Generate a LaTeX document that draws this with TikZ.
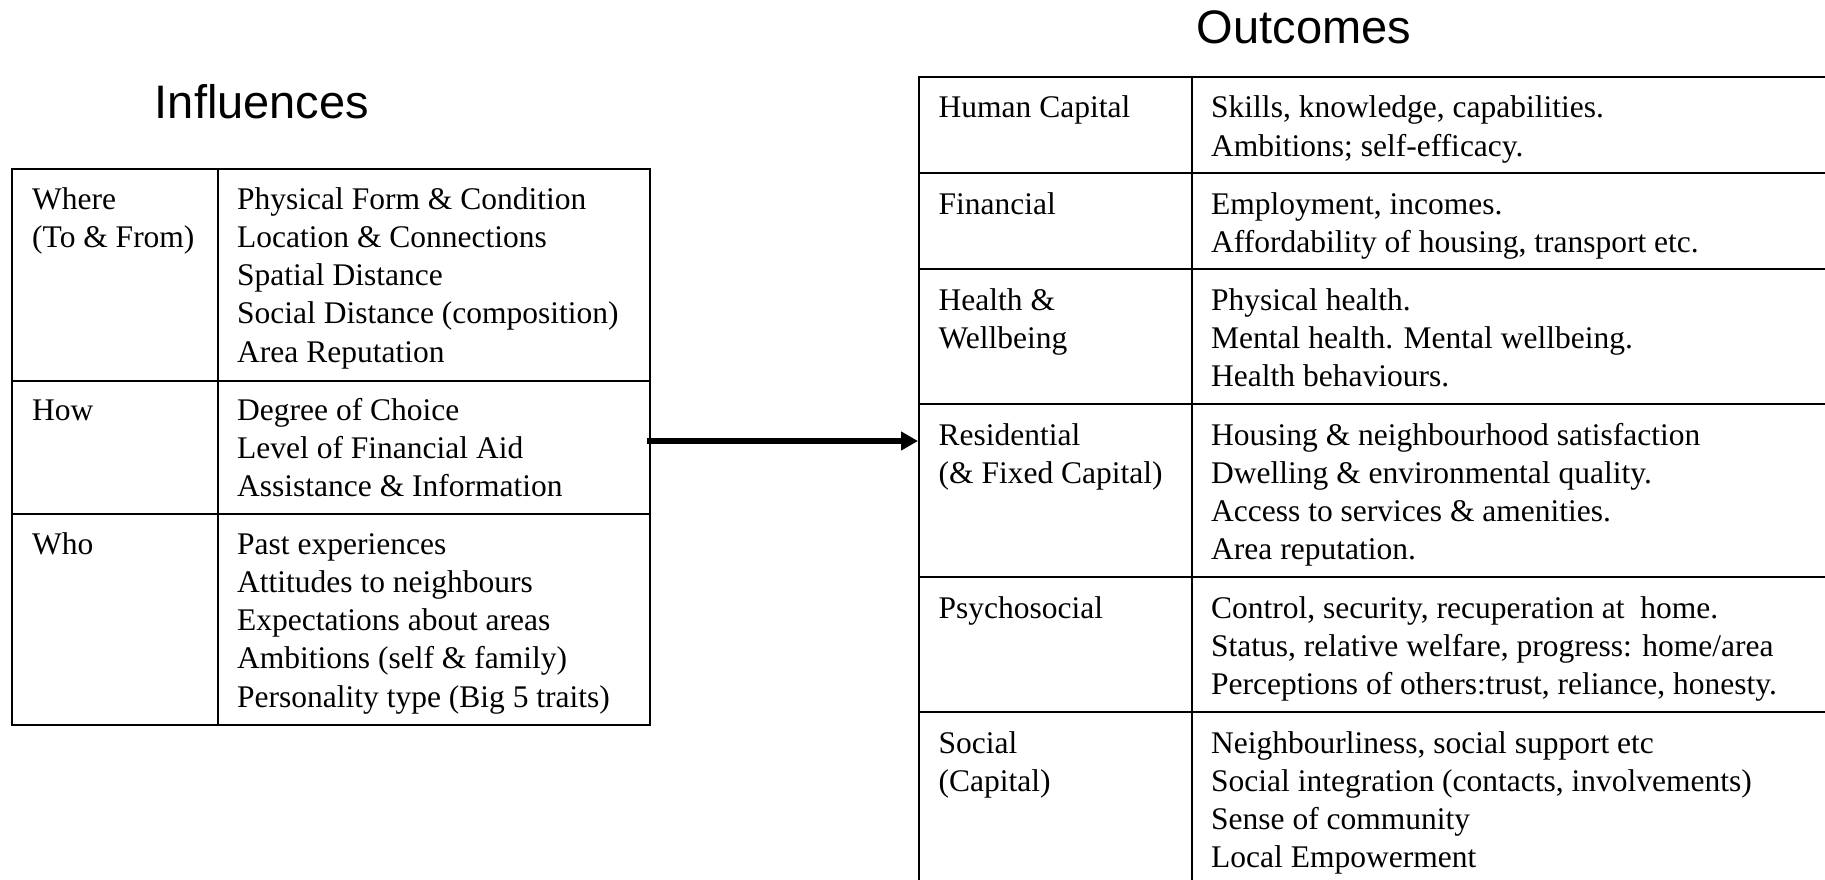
\documentclass[tikz,border=0pt]{standalone}
\usepackage{fontspec}
\setmainfont{Liberation Serif}
\newfontfamily\headfont{Liberation Sans}
\usetikzlibrary{arrows.meta}
\begin{document}
\begin{tikzpicture}[x=1pt,y=-1pt,
  cell/.style={anchor=base west, inner sep=0pt, align=left, font=\fontsize{31.5}{38.3}\selectfont},
  heading/.style={anchor=base, inner sep=0pt, font=\headfont\fontsize{47}{56}\selectfont},
  gridA/.style={line width=2pt},
  gridB/.style={line width=2.6pt},
  conn/.style={line width=6pt, -{Triangle[length=17pt,width=18pt]}}]
\useasboundingbox (0,0) rectangle (1825,880);
% titles
\node[heading] (inftitle) at (262,119) {Influences};
\node[heading] (outtitle) at (1304,44) {Outcomes};
% left table grid
\draw[gridA] (12,169) rectangle (650,725);
\draw[gridA] (218,169) -- (218,725);
\draw[gridA] (12,381) -- (650,381);
\draw[gridA] (12,514) -- (650,514);
% left table text (positions are the baseline of each cell's last line)
\node[cell] (where) at (32,247.3) {Where\\(To \& From)};
\node[cell] (wherec) at (237,362.2) {Physical Form \& Condition\\Location \& Connections\\Spatial Distance\\Social Distance (composition)\\Area Reputation};
\node[cell] (how) at (32,420) {How};
\node[cell] (howc) at (237,496.6) {Degree of Choice\\Level of Financial Aid\\Assistance \& Information};
\node[cell] (who) at (32,554) {Who};
\node[cell] (whoc) at (237,707.2) {Past experiences\\Attitudes to neighbours\\Expectations about areas\\Ambitions (self \& family)\\Personality type (Big 5 traits)};
% right table grid
\draw[gridB] (919,885) -- (919,77) -- (1830,77);
\draw[gridB] (1192,77) -- (1192,885);
\foreach \yy in {173,269,404,577,712} \draw[gridB] (919,\yy) -- (1830,\yy);
% right table text
\node[cell] (hum) at (938.5,118) {Human Capital};
\node[cell] (humc) at (1211,156.3) {Skills, knowledge, capabilities.\\Ambitions; self-efficacy.};
\node[cell] (fin) at (938.5,214) {Financial};
\node[cell] (finc) at (1211,252.3) {Employment, incomes.\\Affordability of housing, transport etc.};
\node[cell] (hea) at (938.5,348.3) {Health \&\\Wellbeing};
\node[cell] (heac) at (1211,386.6) {Physical health.\\Mental health. Mental wellbeing.\\Health behaviours.};
\node[cell] (res) at (938.5,483.3) {Residential\\(\& Fixed Capital)};
\node[cell] (resc) at (1211,559.9) {Housing \& neighbourhood satisfaction\\Dwelling \& environmental quality.\\Access to services \& amenities.\\Area reputation.};
\node[cell] (psy) at (938.5,618) {Psychosocial};
\node[cell] (psyc) at (1211,694.6) {Control, security, recuperation at\ \ home.\\Status, relative welfare, progress: home/area\\Perceptions of others:trust, reliance, honesty.};
\node[cell] (soc) at (938.5,791.3) {Social\\(Capital)};
\node[cell] (socc) at (1211,867.9) {Neighbourliness, social support etc\\Social integration (contacts, involvements)\\Sense of community\\Local Empowerment};
% connector
\coordinate (arrstart) at (647,441);
\coordinate (arrend) at (918,441);
\draw[conn] (arrstart) -- (arrend);
\end{tikzpicture}
\end{document}
